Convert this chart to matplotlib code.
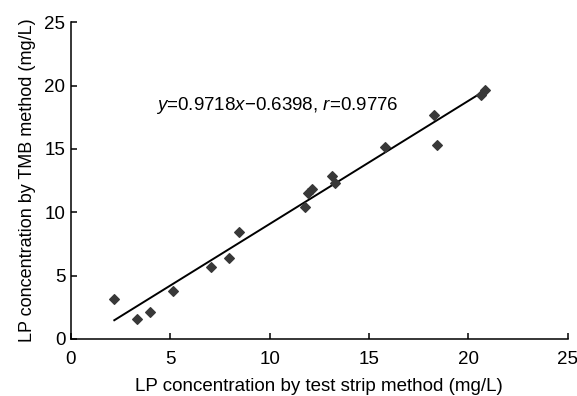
import matplotlib
matplotlib.use("Agg")
import matplotlib.pyplot as plt
import numpy as np

plt.rcParams['font.family'] = ['Liberation Sans', 'DejaVu Sans']
plt.rcParams['mathtext.fontset'] = 'custom'
plt.rcParams['mathtext.rm'] = 'Liberation Sans'
plt.rcParams['mathtext.it'] = 'Liberation Sans:italic'

strip_x = [2.18, 3.30, 3.97, 5.11, 7.03, 7.93, 8.45, 11.77, 11.94, 12.11,
           13.16, 13.28, 15.79, 18.26, 18.44, 20.61, 20.86]
tmb_y = [3.15, 1.58, 2.10, 3.81, 5.70, 6.36, 8.41, 10.39, 11.54, 11.80,
         12.85, 12.33, 15.12, 17.69, 15.32, 19.24, 19.64]
slope = 0.9718
intercept = -0.6398
x_ticks = [0, 5, 10, 15, 20, 25]
y_ticks = [0, 5, 10, 15, 20, 25]

fig = plt.figure(figsize=(5.77, 3.96), dpi=100)
ax = fig.add_axes([0.123, 0.144, 0.861, 0.80])

ax.scatter(strip_x, tmb_y, marker='D', s=24, color='#383838', zorder=3)
xs = np.array([min(strip_x), max(strip_x)])
ax.plot(xs, slope * xs + intercept, color='black', lw=1.4)

ax.set_xlim(0, 25)
ax.set_ylim(0, 25)
ax.set_xticks(x_ticks)
ax.set_yticks(y_ticks)
for s in ['top', 'right']:
    ax.spines[s].set_visible(False)
for s in ['left', 'bottom']:
    ax.spines[s].set_linewidth(1.1)
ax.tick_params(direction='in', length=4.5, width=1.1, labelsize=13.5)
ax.tick_params(axis='x', pad=8.5)
ax.tick_params(axis='y', pad=4)
ax.set_xlabel('LP concentration by test strip method (mg/L)', fontsize=13.5, labelpad=7)
ax.set_ylabel('LP concentration by TMB method (mg/L)', fontsize=13, labelpad=6)

ax.text(4.26, 18.45, r'$y$=0.9718$x$−0.6398, $r$=0.9776', fontsize=13.5, va='center', ha='left')

fig.savefig('out.png', dpi=100)
